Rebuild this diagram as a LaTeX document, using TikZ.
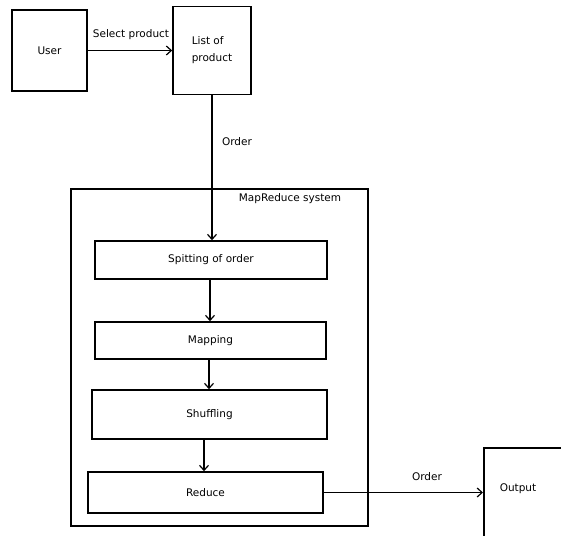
\documentclass[tikz,border=0pt]{standalone}
\usepackage{fontspec}
\setmainfont{DejaVu Sans}
\usetikzlibrary{arrows.meta}
\begin{document}
\begin{tikzpicture}[x=1pt,y=-1pt,
  box/.style={draw, line width=1.6pt, rectangle, inner sep=0pt, font=\fontsize{10.5}{17}\selectfont},
  lbl/.style={font=\fontsize{10.5}{12}\selectfont, inner sep=0pt},
  arr/.style={line width=1.5pt, -{Straight Barb[length=5pt,width=9pt,line width=1.2pt]}}]
\useasboundingbox (0,0) rectangle (561,535);
\clip (0,0) rectangle (561,535);
\fill[white] (0,0) rectangle (561,535);

% top row
\node[box, minimum width=75pt, minimum height=81pt] (user) at (49.5,50.5) {User};
\node[box, minimum width=78pt, minimum height=88pt, align=left] (list) at (212,50.5) {List of\\product};

% MapReduce container
\node[box, minimum width=297pt, minimum height=337pt] (mr) at (219.5,357.5) {};
\node[lbl] (mrlbl) at (290,199) {MapReduce system};

% processing stages
\node[box, minimum width=232pt, minimum height=38pt] (spit) at (211,260) {Spitting of order};
\node[box, minimum width=231pt, minimum height=37pt] (map) at (210.5,340.5) {Mapping};
\node[box, minimum width=235pt, minimum height=49pt] (shuf) at (209.5,414.5) {Shuffling};
\node[box, minimum width=235pt, minimum height=41pt] (red) at (205.5,492.5) {Reduce};

% output box (runs past the page edge)
\node[box, minimum width=130pt, minimum height=130pt, anchor=north west] (outbox) at (483,447) {};
\node[lbl] (outlbl) at (518,489) {Output};

% connectors
\draw[arr] (user.east) -- (list.west |- user.east);
\node[lbl] (sel) at (131,35) {Select product};

\draw[arr] (list.south) -- (list.south |- spit.north);
\node[lbl] (ord1) at (237,142) {Order};

\draw[arr] ([xshift=-1pt]spit.south) -- ([xshift=-1pt]spit.south |- map.north);
\draw[arr] ([xshift=-1.5pt]map.south) -- ([xshift=-1.5pt]map.south |- shuf.north);
\draw[arr] ([xshift=-5.5pt]shuf.south) -- ([xshift=-5.5pt]shuf.south |- red.north);

\draw[arr] (red.east) -- (red.east -| outbox.west);
\node[lbl] (ord2) at (427,477) {Order};
\end{tikzpicture}
\end{document}
